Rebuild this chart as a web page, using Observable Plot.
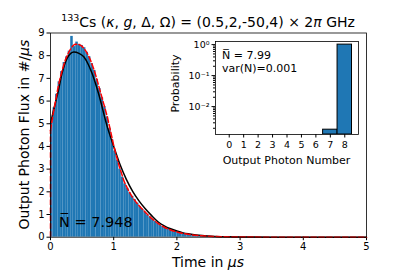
<!DOCTYPE html>
<html><head><meta charset="utf-8">
<script src="https://cdn.jsdelivr.net/npm/d3@7"></script>
<script src="https://cdn.jsdelivr.net/npm/@observablehq/plot@0.6"></script>
<style>html,body{margin:0;padding:0;background:#fff}</style>
</head><body><div id="chart"></div>
<script>
// ---------- data ----------
const binWidth = 0.04; // µs per histogram bin, bins start at t = 0
const fluxHist = [5.1,5.7,6.3,6.85,7.3,7.7,7.95,8.2,8.85,8.4,
  8.6,8.5,8.45,8.35,8.15,7.95,7.65,7.35,6.95,6.55,
  6.15,5.75,5.3,4.8,4.3,3.8,3.4,3.0,2.65,2.35,
  2.15,1.95,1.8,1.65,1.5,1.35,1.22,1.1,0.98,0.88,
  0.78,0.69,0.61,0.54,0.47,0.42,0.37,0.32,0.28,0.25,
  0.22,0.19,0.17,0.15,0.13,0.115,0.1,0.088,0.077,0.067,
  0.058,0.05,0.044,0.038,0.033,0.029,0.025,0.022,0.019,0.016,
  0.014,0.012,0.01,0.009,0.008,0.007,0.006,0.005,0.004,0.003];
const blackT = [0,0.04,0.08,0.12,0.18,0.26,0.32,0.37,0.45,0.53,0.6,0.66,0.76,0.9,1.0,1.1,1.2,1.3,1.4,1.5,1.6,1.7,1.8,1.9,2.0,2.1,2.2,2.3,2.4,2.6,2.8,3.0,3.5,4.0,5.0];
const blackV = [5.0,5.5,5.95,6.4,7.2,7.87,8.1,8.16,8.1,7.94,7.6,7.2,6.33,4.85,4.0,3.2,2.55,2.02,1.6,1.25,0.95,0.68,0.5,0.37,0.27,0.19,0.14,0.1,0.07,0.035,0.017,0.008,0.001,0.0002,0];
const redT = [0,0.04,0.08,0.12,0.16,0.2,0.24,0.28,0.32,0.36,0.4,0.44,0.48,0.52,0.56,0.6,0.64,0.68,0.72,0.76,0.8,0.84,0.88,0.92,0.96,1.0,1.04,1.08,1.12,1.16,1.2,1.3,1.4,1.5,1.6,1.7,1.8,1.9,2.0,2.2,2.4,2.6,2.8,3.0,3.5,4.0,5.0];
const redV = [4.7,5.4,6.0,6.6,7.1,7.5,7.85,8.1,8.3,8.45,8.5,8.5,8.45,8.35,8.2,8.0,7.75,7.45,7.1,6.7,6.3,5.9,5.5,5.05,4.55,4.05,3.6,3.2,2.85,2.5,2.25,1.75,1.4,1.1,0.83,0.61,0.44,0.32,0.23,0.12,0.06,0.03,0.015,0.007,0.002,0.0005,0];
const xTicks = [0,1,2,3,4,5];
const yTicks = [0,1,2,3,4,5,6,7,8,9];
const photonN = [0,1,2,3,4,5,6,7,8];
const photonP = [0,0,0,0,0,0,0,0.0018,0.9982];
const probTicks = [1,0.1,0.01];
const probTickLabels = ["10⁰","10⁻¹","10⁻²"];
const probMinorTicks = [0.002,0.003,0.004,0.005,0.006,0.007,0.008,0.009,0.02,0.03,0.04,0.05,0.06,0.07,0.08,0.09,0.2,0.3,0.4,0.5,0.6,0.7,0.8,0.9];
const meanFluxLabel = "7.948";
const meanNLabel = "7.99";
const varNLabel = "0.001";

// ---------- layout ----------
const FONT = '"DejaVu Sans", sans-serif';
const W = 407, H = 271;
const M = {l: 50, r: 41, t: 32.5, b: 34.3};
const BLUE = "#1f77b4";

const histData = fluxHist.map((v, i) => ({t0: i * binWidth, t1: (i + 1) * binWidth, v}));
const blackData = blackT.map((t, i) => ({t, v: blackV[i]}));
const redData = redT.map((t, i) => ({t, v: redV[i]}));

const chart = Plot.plot({
  width: W, height: H,
  marginLeft: M.l, marginRight: M.r, marginTop: M.t, marginBottom: M.b,
  style: {fontFamily: FONT, fontSize: "10px", color: "black", background: "white", overflow: "visible"},
  x: {domain: [0, 5], ticks: xTicks, tickSize: 3.5, tickPadding: 2.5, tickFormat: d => String(d), label: null},
  y: {domain: [0, 9], ticks: yTicks, tickSize: 3.5, tickPadding: 2.5, tickFormat: d => String(d), label: null},
  marks: [
    Plot.rectY(histData, {x1: "t0", x2: "t1", y1: 0, y2: "v", fill: BLUE, inset: 0}),
    Plot.line(blackData, {x: "t", y: "v", stroke: "black", strokeWidth: 1.5, curve: "monotone-x"}),
    Plot.ruleX([redData[0]], {x: "t", y1: 0, y2: "v", stroke: "#ff0000", strokeWidth: 1.5, strokeDasharray: "5.5,2.4"}),
    Plot.line(redData, {x: "t", y: "v", stroke: "#ff0000", strokeWidth: 1.5, strokeDasharray: "5.5,2.4", curve: "monotone-x"}),
    Plot.frame({stroke: "black", strokeWidth: 0.8})
  ]
});

const svg = d3.select(chart);
const cx = M.l + (W - M.l - M.r) / 2;
const cy = M.t + (H - M.t - M.b) / 2;

function addText(x, y, size, anchor) {
  return svg.append("text").attr("x", x).attr("y", y).attr("text-anchor", anchor)
    .attr("font-family", FONT).attr("font-size", size).attr("fill", "black");
}

// title
const title = addText(cx, 26.5, 14, "middle");
title.append("tspan").attr("font-size", 9.5).attr("dy", -5.5).text("133");
title.append("tspan").attr("dy", 5.5).text("Cs (");
title.append("tspan").attr("font-style", "italic").text("κ");
title.append("tspan").text(", ");
title.append("tspan").attr("font-style", "italic").text("g");
title.append("tspan").text(", Δ, Ω) = (0.5,2,-50,4) × 2");
title.append("tspan").attr("font-style", "italic").text("π");
title.append("tspan").text(" GHz");

// axis labels
const xl = addText(cx, 266.5, 14, "middle");
xl.append("tspan").text("Time in ");
xl.append("tspan").attr("font-style", "italic").text("μs");

const yl = svg.append("text").attr("transform", `translate(29,${cy}) rotate(-90)`).attr("text-anchor", "middle")
  .attr("font-family", FONT).attr("font-size", 14).attr("fill", "black");
yl.append("tspan").text("Output Photon Flux in #/");
yl.append("tspan").attr("font-style", "italic").text("μs");

// mean annotation
addText(M.l + 9, H - M.b - 10, 14.5, "start").text("N\u0305 = " + meanFluxLabel);

// ---------- inset ----------
const IB = {x: 160, y: 36, w: 202, h: 132};
const IM = {l: 55, r: 4, t: 5, b: 34};
const yMin = Math.pow(10, -2.9), yMax = Math.pow(10, 0.1);
const probData = photonN.map((n, i) => ({n, p: photonP[i]})).filter(d => d.p > 0);

const inset = Plot.plot({
  width: IB.w, height: IB.h,
  marginLeft: IM.l, marginRight: IM.r, marginTop: IM.t, marginBottom: IM.b,
  style: {fontFamily: FONT, fontSize: "9.5px", color: "black", background: "none", overflow: "visible"},
  x: {domain: [-0.95, 8.95]},
  y: {type: "log", domain: [yMin, yMax]},
  marks: [
    Plot.frame({fill: "white"}),
    Plot.rect(probData, {x1: d => d.n - 0.5, x2: d => d.n + 0.5, y1: yMin, y2: "p", fill: BLUE, stroke: "black", strokeWidth: 1, clip: true}),
    Plot.axisX({ticks: photonN, tickSize: 3.5, tickPadding: 3, tickFormat: d => String(d), label: null}),
    Plot.axisY({ticks: probTicks, tickSize: 3.5, tickPadding: 2.5, tickFormat: d => probTickLabels[probTicks.indexOf(d)], label: null}),
    Plot.axisY({ticks: probMinorTicks, tickSize: 2, tickFormat: () => "", label: null}),
    Plot.frame({stroke: "black", strokeWidth: 0.8})
  ]
});
inset.setAttribute("x", IB.x);
inset.setAttribute("y", IB.y);
inset.style.width = IB.w + "px";
inset.style.height = IB.h + "px";
inset.style.maxWidth = "none";
chart.appendChild(inset);

const fL = IB.x + IM.l, fR = IB.x + IB.w - IM.r, fT = IB.y + IM.t, fB = IB.y + IB.h - IM.b;
addText(fL + 7, fT + 18, 11, "start").text("N\u0305 = " + meanNLabel);
addText(fL + 7, fT + 30.5, 11, "start").text("var(N)=" + varNLabel);
addText((fL + fR) / 2, fB + 29.5, 11, "middle").text("Output Photon Number");
svg.append("text").attr("transform", `translate(178.5,${(fT + fB) / 2 - 4}) rotate(-90)`).attr("text-anchor", "middle")
  .attr("font-family", FONT).attr("font-size", 11).attr("fill", "black")
  .text("Probability");

document.getElementById("chart").appendChild(chart);
</script>
</body></html>
